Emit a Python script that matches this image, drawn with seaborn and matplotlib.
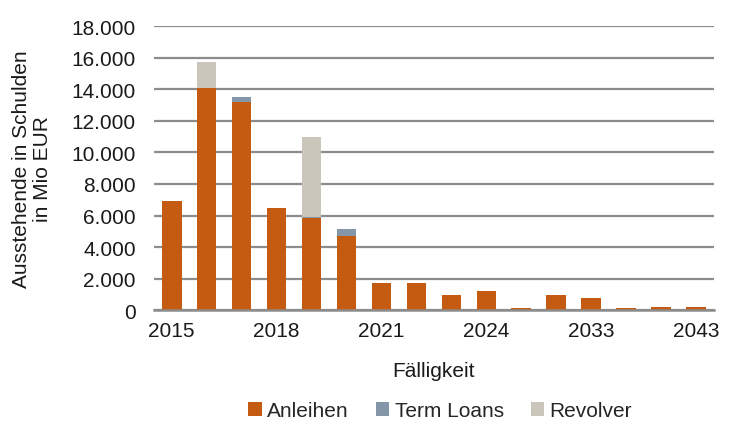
import matplotlib
matplotlib.use("Agg")
import matplotlib.pyplot as plt
import seaborn as sns
import pandas as pd
import numpy as np
from matplotlib.ticker import FuncFormatter, FixedLocator
from matplotlib.patches import Patch

years = ["2015", "2016", "2017", "2018", "2019", "2020", "2021", "2022", "2023",
         "2024", "2025", "2026", "2033", "2036", "2040", "2043"]
anleihen = [6900, 14100, 13200, 6500, 5820, 4700, 1700, 1720, 980, 1220, 150, 950, 800, 150, 200, 170]
term_loans = [0, 0, 320, 0, 100, 420, 0, 0, 0, 0, 0, 0, 0, 0, 0, 0]
revolver = [0, 1650, 0, 0, 5080, 0, 0, 0, 0, 0, 0, 0, 0, 0, 0, 0]
series_names = ["Anleihen", "Term Loans", "Revolver"]
colors = ["#C55A11", "#8497A8", "#CAC6BC"]
shown_labels = ["2015", "2018", "2021", "2024", "2033", "2043"]

sns.set_theme(style="white")
plt.rcParams['font.family'] = ['Liberation Sans', 'DejaVu Sans']

df = pd.DataFrame({"Jahr": years, "Anleihen": anleihen,
                   "Term Loans": term_loans, "Revolver": revolver})

fs = 15
fig = plt.figure(figsize=(7.3, 4.31), dpi=100)
ax = fig.add_axes([0.211, 0.278, 0.767, 0.659])

bottom = np.zeros(len(years))
for name, col in zip(series_names, colors):
    sns.barplot(data=df, x="Jahr", y=name, color=col, bottom=bottom,
                width=0.57, ax=ax, order=years, saturation=1, linewidth=0)
    bottom = bottom + df[name].values

ax.set_ylim(0, 18000)
ax.set_xlim(-0.5, len(years) - 0.5)
ax.set_yticks(np.arange(0, 18001, 2000))
ax.yaxis.set_major_formatter(FuncFormatter(lambda v, p: f"{int(v):,}".replace(",", ".")))
ax.grid(axis="y", color="#8C8C8C", linewidth=1.6)
ax.set_axisbelow(True)

label_pos = [years.index(l) for l in shown_labels]
ax.set_xticks(label_pos)
ax.set_xticklabels(shown_labels)
ax.xaxis.set_minor_locator(FixedLocator([-0.5, 2.5, 5.5, 8.5, 11.5, 14.5]))
ax.tick_params(axis="x", which="major", length=0, labelsize=fs, pad=8, colors="#1a1a1a")
ax.tick_params(axis="x", which="minor", length=9, width=1.6, direction="inout", color="#8C8C8C")
ax.tick_params(axis="y", length=0, labelsize=fs, pad=13, colors="#1a1a1a")
for s in ["top", "right", "left"]:
    ax.spines[s].set_visible(False)
ax.spines["bottom"].set_color("#8C8C8C")
ax.spines["bottom"].set_linewidth(1.8)

ax.set_xlabel("Fälligkeit", fontsize=fs, labelpad=15, color="#1a1a1a")
ax.set_ylabel("Ausstehende in Schulden\nin Mio EUR", fontsize=fs, labelpad=14,
              color="#1a1a1a", linespacing=1.15)

handles = [Patch(facecolor=c, edgecolor="none", label=n) for n, c in zip(series_names, colors)]
fig.legend(handles=handles, loc="center", bbox_to_anchor=(0.603, 0.045), ncol=3,
           frameon=False, fontsize=fs, handlelength=0.65, handleheight=0.65,
           handletextpad=0.25, columnspacing=1.3)

fig.savefig("out.png", dpi=100)
